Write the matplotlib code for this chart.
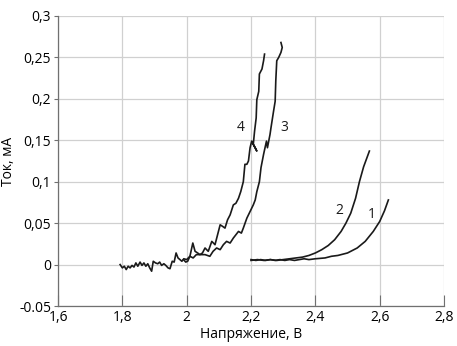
import matplotlib
matplotlib.use("Agg")
import matplotlib.pyplot as plt

plt.rcParams["font.family"] = ["Open Sans", "DejaVu Sans"]

# ----------------------------------------------------------------------------
# Data
# ----------------------------------------------------------------------------
X_TICKS = [1.6, 1.8, 2.0, 2.2, 2.4, 2.6, 2.8]
X_TICK_LABELS = ["1,6", "1,8", "2", "2,2", "2,4", "2,6", "2,8"]
Y_TICKS = [-0.05, 0, 0.05, 0.1, 0.15, 0.2, 0.25, 0.3]
Y_TICK_LABELS = ["-0.05", "0", "0,05", "0,1", "0,15", "0,2", "0,25", "0,3"]

x1 = [2.200, 2.215, 2.230, 2.245, 2.260, 2.275, 2.290, 2.305, 2.320, 2.335,
      2.350, 2.365, 2.380, 2.400, 2.430, 2.450, 2.470, 2.500, 2.530, 2.555,
      2.580, 2.600, 2.615, 2.627]
y1 = [0.006, 0.005, 0.006, 0.005, 0.006, 0.005, 0.006, 0.005, 0.006, 0.005,
      0.006, 0.007, 0.006, 0.007, 0.008, 0.010, 0.011, 0.014, 0.020, 0.028,
      0.040, 0.052, 0.065, 0.078]

x2 = [2.200, 2.220, 2.240, 2.260, 2.280, 2.300, 2.320, 2.340, 2.360, 2.380,
      2.400, 2.420, 2.440, 2.460, 2.480, 2.495, 2.510, 2.525, 2.537, 2.550,
      2.568]
y2 = [0.005, 0.006, 0.005, 0.006, 0.005, 0.006, 0.007, 0.008, 0.009, 0.011,
      0.014, 0.018, 0.023, 0.030, 0.040, 0.050, 0.062, 0.080, 0.100, 0.118,
      0.137]

x3 = [1.990, 1.997, 2.003, 2.010, 2.020, 2.030, 2.041, 2.057, 2.072, 2.082,
      2.093, 2.104, 2.114, 2.124, 2.135, 2.145, 2.153, 2.161, 2.170, 2.176,
      2.187, 2.197, 2.207, 2.213, 2.218, 2.226, 2.231, 2.239, 2.248, 2.251,
      2.259, 2.262, 2.270, 2.275, 2.277, 2.280, 2.286, 2.293, 2.297, 2.293]
y3 = [0.006, 0.003, 0.004, 0.010, 0.008, 0.012, 0.012, 0.012, 0.010, 0.016,
      0.020, 0.018, 0.024, 0.028, 0.026, 0.032, 0.036, 0.040, 0.038, 0.044,
      0.056, 0.064, 0.072, 0.078, 0.088, 0.100, 0.117, 0.133, 0.149, 0.141,
      0.157, 0.165, 0.185, 0.197, 0.222, 0.246, 0.250, 0.256, 0.262, 0.268]

x4 = [1.793, 1.800, 1.806, 1.812, 1.818, 1.824, 1.830, 1.836, 1.842, 1.848,
      1.855, 1.861, 1.867, 1.873, 1.879, 1.885, 1.891, 1.896, 1.903, 1.910,
      1.916, 1.922, 1.929, 1.935, 1.942, 1.948, 1.955, 1.961, 1.967, 1.973,
      1.979, 1.985, 1.991, 2.000, 2.010, 2.019, 2.026, 2.034, 2.041, 2.049,
      2.057, 2.067, 2.078, 2.088, 2.096, 2.104, 2.112, 2.119, 2.127, 2.135,
      2.145, 2.153, 2.161, 2.168, 2.176, 2.181, 2.187, 2.192, 2.197, 2.202,
      2.213, 2.218, 2.207, 2.211, 2.216, 2.218, 2.224, 2.226, 2.234, 2.239,
      2.242]
y4 = [0.000, -0.004, -0.002, -0.006, -0.002, -0.004, -0.001, -0.003, 0.002, -0.002,
      0.003, -0.001, 0.002, -0.002, 0.001, -0.004, -0.008, 0.004, 0.002, 0.001,
      0.003, -0.001, 0.001, -0.001, -0.004, -0.005, 0.004, 0.003, 0.014, 0.008,
      0.006, 0.004, 0.007, 0.006, 0.010, 0.026, 0.016, 0.014, 0.012, 0.014,
      0.020, 0.016, 0.028, 0.024, 0.036, 0.048, 0.046, 0.044, 0.054, 0.060,
      0.072, 0.074, 0.080, 0.088, 0.100, 0.121, 0.121, 0.125, 0.141, 0.149,
      0.141, 0.137, 0.145, 0.161, 0.177, 0.199, 0.209, 0.230, 0.236, 0.246,
      0.254]

CURVES = [(x1, y1), (x2, y2), (x3, y3), (x4, y4)]
CURVE_LABELS = ["1", "2", "3", "4"]
LABEL_POS = [(2.576, 0.060), (2.473, 0.065), (2.303, 0.166), (2.168, 0.166)]

# ----------------------------------------------------------------------------
# Plot
# ----------------------------------------------------------------------------
fig = plt.figure(figsize=(4.57, 3.46), dpi=100)
ax = fig.add_axes([0.127, 0.1156, 0.8446, 0.8382])

for (xs, ys) in CURVES:
    ax.plot(xs, ys, color="#1a1a1a", lw=1.2, zorder=3)

for lab, (lx, ly) in zip(CURVE_LABELS, LABEL_POS):
    ax.text(lx, ly, lab, fontsize=10, ha="center", va="center", color="#1a1a1a")

ax.set_xlim(1.6, 2.8)
ax.set_ylim(-0.05, 0.3)
ax.set_xticks(X_TICKS)
ax.set_xticklabels(X_TICK_LABELS)
ax.set_yticks(Y_TICKS)
ax.set_yticklabels(Y_TICK_LABELS)

ax.grid(True, color="#d0d0d0", lw=0.9)
ax.set_axisbelow(True)
for s in ("top", "right"):
    ax.spines[s].set_visible(False)
for s in ("left", "bottom"):
    ax.spines[s].set_color("#707070")
    ax.spines[s].set_linewidth(0.9)

ax.tick_params(axis="x", direction="in", length=8, color="#707070",
               labelsize=10, pad=3)
ax.tick_params(axis="y", direction="out", length=3, color="#707070",
               labelsize=10, pad=2)

ax.set_xlabel("Напряжение, В", fontsize=10, labelpad=1)
ax.set_ylabel("Ток, мА", fontsize=10, labelpad=2)

fig.savefig("out.png", dpi=100)
